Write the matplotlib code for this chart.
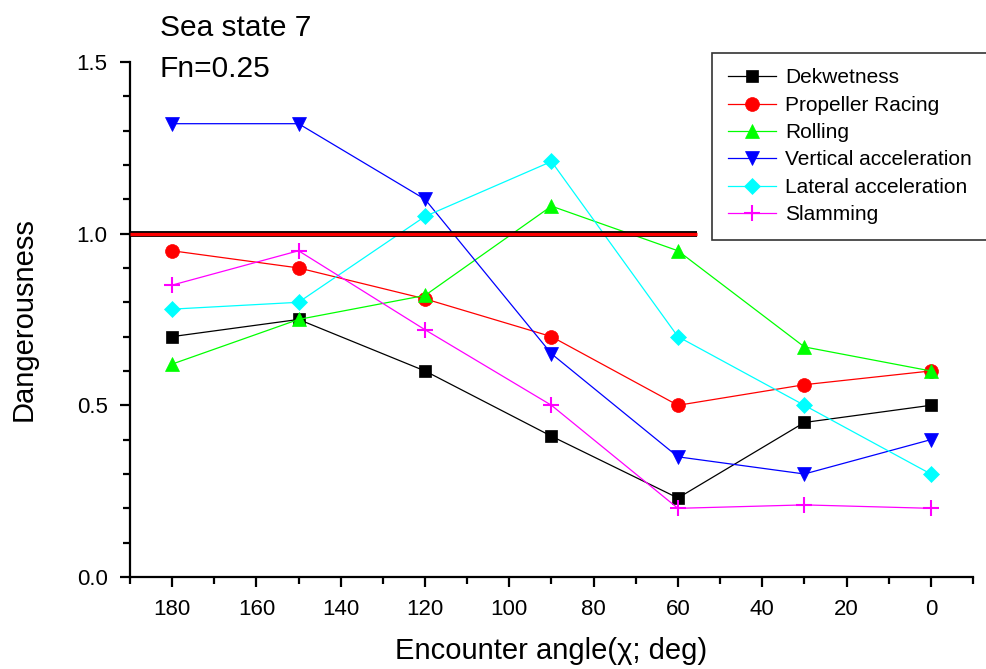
import matplotlib
matplotlib.use('Agg')
import matplotlib.pyplot as plt
from matplotlib.ticker import MultipleLocator

plt.rcParams['font.family'] = ['Liberation Sans', 'DejaVu Sans']

# encounter angles (deg)
angles = [180, 150, 120, 90, 60, 30, 0]

dekwetness = [0.70, 0.75, 0.60, 0.41, 0.23, 0.45, 0.50]
propeller_racing = [0.95, 0.90, 0.81, 0.70, 0.50, 0.56, 0.60]
rolling = [0.62, 0.75, 0.82, 1.08, 0.95, 0.67, 0.60]
vertical_acc = [1.32, 1.32, 1.10, 0.65, 0.35, 0.30, 0.40]
lateral_acc = [0.78, 0.80, 1.05, 1.21, 0.70, 0.50, 0.30]
slamming = [0.85, 0.95, 0.72, 0.50, 0.20, 0.21, 0.20]

limit_value = 1.0
limit_span = [190, 55.5]

series = [
    ('Dekwetness', dekwetness, 'black', 's', 8.5),
    ('Propeller Racing', propeller_racing, '#ff0000', 'o', 10),
    ('Rolling', rolling, '#00ff00', '^', 10),
    ('Vertical acceleration', vertical_acc, '#0000ff', 'v', 10),
    ('Lateral acceleration', lateral_acc, '#00ffff', 'D', 8),
    ('Slamming', slamming, '#ff00ff', '+', 11),
]

fig = plt.figure(figsize=(9.86, 6.69), dpi=100)
ax = fig.add_axes([0.1318, 0.1375, 0.855, 0.77])

for name, vals, color, marker, ms in series:
    ax.plot(angles, vals, color=color, lw=0.9, marker=marker, markersize=ms,
            markerfacecolor=color, markeredgecolor=color,
            markeredgewidth=1.5 if marker == '+' else 0.5, label=name, zorder=3)

# critical level
ax.plot(limit_span, [limit_value, limit_value], color='black', lw=4.2,
        solid_capstyle='butt', zorder=4)
ax.plot(limit_span, [limit_value, limit_value], color='#ff0000', lw=2.4,
        solid_capstyle='butt', zorder=5)

ax.set_xlim(190, -10)
ax.set_ylim(0, 1.5)
ax.xaxis.set_major_locator(MultipleLocator(20))
ax.xaxis.set_minor_locator(MultipleLocator(10))
ax.yaxis.set_major_locator(MultipleLocator(0.5))
ax.yaxis.set_minor_locator(MultipleLocator(0.1))
ax.yaxis.set_major_formatter(matplotlib.ticker.FormatStrFormatter('%.1f'))

for side in ['top', 'right']:
    ax.spines[side].set_visible(False)
for side in ['left', 'bottom']:
    ax.spines[side].set_linewidth(1.6)
    ax.spines[side].set_clip_on(False)

ax.tick_params(which='major', direction='out', length=7, width=1.6,
               labelsize=16, pad=9)
ax.tick_params(which='minor', direction='out', length=5, width=1.6)

ax.set_xlabel('Encounter angle(χ; deg)', fontsize=21, labelpad=12)
ax.set_ylabel('Dangerousness', fontsize=21, labelpad=28)

fig.text(0.162, 0.958, 'Sea state 7', fontsize=21.5, va='center')
fig.text(0.162, 0.897, 'Fn=0.25', fontsize=21.5, va='center')

leg = ax.legend(loc='upper left', bbox_to_anchor=(0.722, 0.921),
                bbox_transform=fig.transFigure, fontsize=15,
                frameon=True, fancybox=False, handlelength=2.35,
                handletextpad=0.4, labelspacing=0.4, borderpad=0.75,
                borderaxespad=0)
leg.get_frame().set_edgecolor('black')
leg.get_frame().set_linewidth(1.2)

fig.savefig('out.png', dpi=100)
